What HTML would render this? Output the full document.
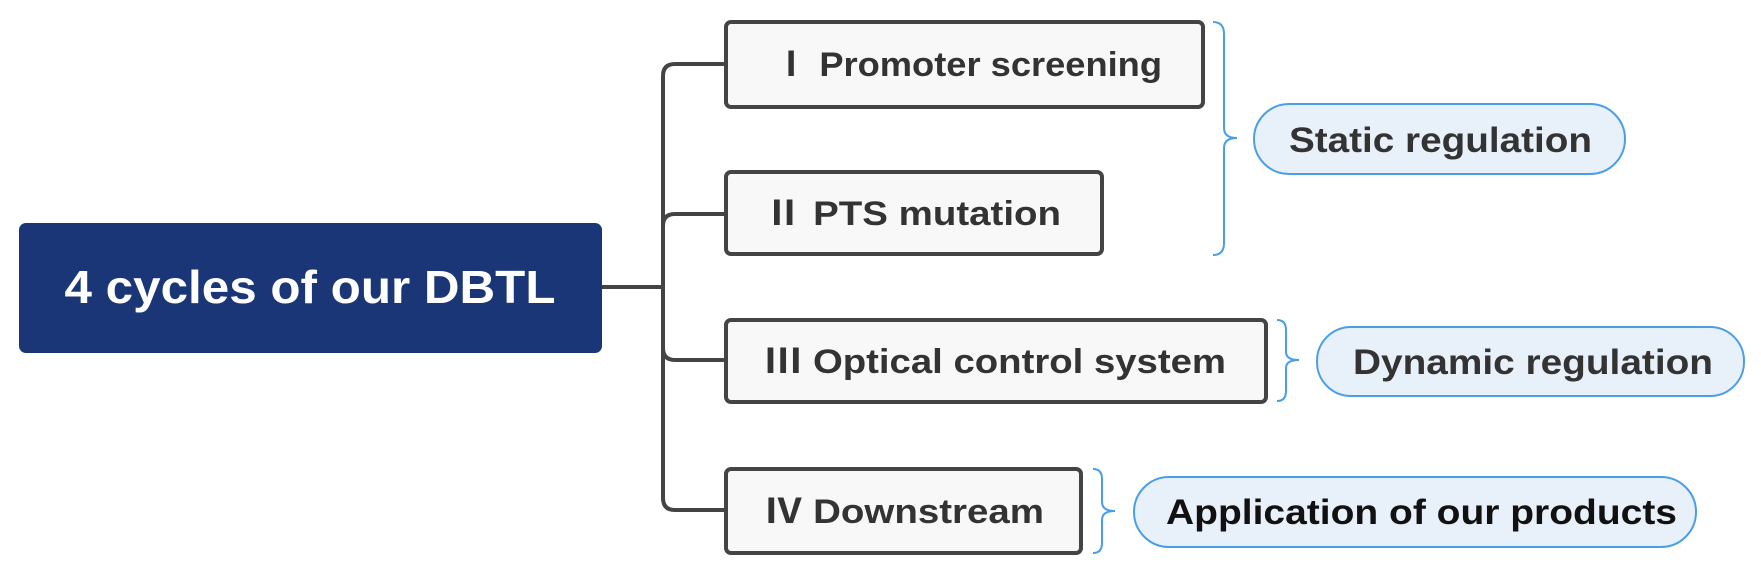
<!DOCTYPE html>
<html><head><meta charset="utf-8"><style>
html,body{margin:0;padding:0;background:#fff;}
svg{display:block}
text{font-family:"Liberation Sans","Noto Sans CJK SC",sans-serif;font-weight:bold;}
</style></head><body>
<svg width="1761" height="567" viewBox="0 0 1761 567" xmlns="http://www.w3.org/2000/svg">
<g fill="none" stroke="#444" stroke-width="4">
<path d="M602 287 H663"/>
<path d="M724 64 H675 Q663 64 663 76 V498 Q663 510 675 510 H724"/>
<path d="M663 226 Q663 214 675 214 H724"/>
<path d="M663 348 Q663 360 675 360 H724"/>
</g>
<rect x="19" y="223" width="583" height="130" rx="7" fill="#1a3676"/>
<text x="310" y="303" font-size="46" fill="#fff" text-anchor="middle" textLength="491" lengthAdjust="spacingAndGlyphs">4 cycles of our DBTL</text>
<g fill="#f8f8f8" stroke="#444" stroke-width="4">
<rect x="726" y="22" width="477" height="85" rx="5"/>
<rect x="726" y="172" width="376" height="82" rx="5"/>
<rect x="726" y="320" width="540" height="82" rx="5"/>
<rect x="726" y="469" width="355" height="84" rx="5"/>
</g>
<g fill="#333" font-size="34">
<text x="773" y="76" textLength="389" lengthAdjust="spacingAndGlyphs">Ⅰ Promoter screening</text>
<text x="764" y="225" textLength="297" lengthAdjust="spacingAndGlyphs">Ⅱ PTS mutation</text>
<text x="764" y="373" textLength="462" lengthAdjust="spacingAndGlyphs">Ⅲ Optical control system</text>
<text x="764" y="523" textLength="280" lengthAdjust="spacingAndGlyphs">Ⅳ Downstream</text>
</g>
<g fill="none" stroke="#4a9ee8" stroke-width="2">
<path d="M1213 22 Q1224 22 1224 34 V128 Q1224 138 1237 138 Q1224 138 1224 148 V243 Q1224 255 1213 255"/>
<path d="M1277 320 Q1286 320 1286 330 V352 Q1286 360 1299 360 Q1286 360 1286 368 V391 Q1286 401 1277 401"/>
<path d="M1093 469 Q1102 469 1102 479 V502 Q1102 511 1115 511 Q1102 511 1102 520 V543 Q1102 553 1093 553"/>
</g>
<g fill="#e8f0fa" stroke="#4a9ee8" stroke-width="2">
<rect x="1254" y="104" width="371" height="70" rx="35"/>
<rect x="1317" y="327" width="427" height="69" rx="34"/>
<rect x="1134" y="477" width="562" height="70" rx="35"/>
</g>
<g fill="#333" font-size="35">
<text x="1289" y="152" textLength="303" lengthAdjust="spacingAndGlyphs">Static regulation</text>
<text x="1353" y="374" textLength="360" lengthAdjust="spacingAndGlyphs">Dynamic regulation</text>
<text x="1166" y="524" fill="#111" textLength="511" lengthAdjust="spacingAndGlyphs">Application of our products</text>
</g>
</svg>
</body></html>
